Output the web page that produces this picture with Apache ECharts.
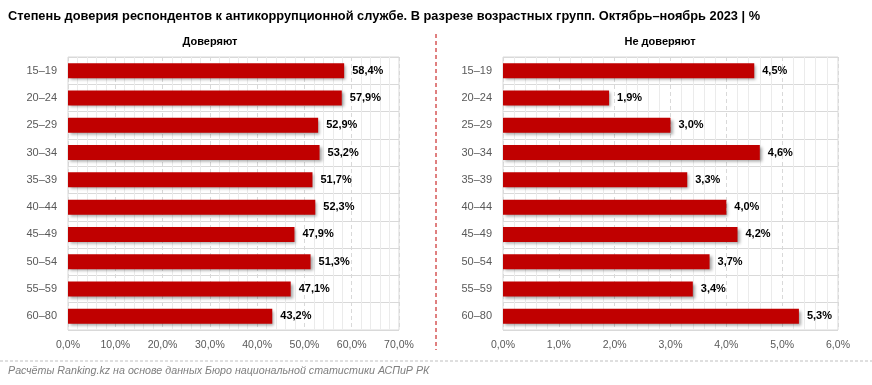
<!DOCTYPE html>
<html><head><meta charset="utf-8">
<script src="https://cdn.jsdelivr.net/npm/echarts@6/dist/echarts.min.js"></script>
<style>html,body{margin:0;padding:0;background:#fff}#c{width:872px;height:385px}</style>
</head><body><div id="c"></div>
<script>
const categories = ['15–19','20–24','25–29','30–34','35–39','40–44','45–49','50–54','55–59','60–80'];
const trustValues = [58.4, 57.9, 52.9, 53.2, 51.7, 52.3, 47.9, 51.3, 47.1, 43.2];
const distrustValues = [4.5, 1.9, 3.0, 4.6, 3.3, 4.0, 4.2, 3.7, 3.4, 5.3];
const titleText = 'Степень доверия респондентов к антикоррупционной службе. В разрезе возрастных групп. Октябрь–ноябрь 2023 | %';
const leftTitle = 'Доверяют';
const rightTitle = 'Не доверяют';
const sourceText = 'Расчёты Ranking.kz на основе данных Бюро национальной статистики АСПиР РК';

const FONT = '"Liberation Sans Narrow", "Liberation Sans", sans-serif';
const fmt = v => v.toFixed(1).replace('.', ',') + '%';
const chart = echarts.init(document.getElementById('c'));

function xAxis(idx, max, interval) {
  return {
    gridIndex: idx, type: 'value', min: 0, max: max, interval: interval,
    axisLine: {show: false}, axisTick: {show: false},
    axisLabel: {formatter: v => fmt(v), color: '#595959', fontFamily: FONT, fontSize: 10.5, margin: 10},
    splitLine: {show: true, lineStyle: {color: '#d9d9d9', type: [4, 3], width: 1}},
    minorTick: {show: false, splitNumber: 5},
    minorSplitLine: {show: true, lineStyle: {color: '#ebebeb', width: 1}}
  };
}
function yAxis(idx) {
  return {
    gridIndex: idx, type: 'category', data: categories, inverse: true,
    axisLine: {show: false}, axisTick: {show: false},
    axisLabel: {color: '#595959', fontFamily: FONT, fontSize: 11, margin: 11},
    splitLine: {show: true, interval: 0, lineStyle: {color: '#d9d9d9', width: 1}}
  };
}
function series(idx, data) {
  return {
    type: 'bar', xAxisIndex: idx, yAxisIndex: idx, data: data, barWidth: 15,
    itemStyle: {color: '#c00000', shadowBlur: 3, shadowOffsetX: 2, shadowOffsetY: 2, shadowColor: 'rgba(0,0,0,0.35)'},
    label: {show: true, position: 'right', distance: 8, formatter: p => fmt(p.value),
      color: '#000', fontFamily: FONT, fontSize: 11, fontWeight: 'bold'}
  };
}

chart.setOption({
  animation: false,
  backgroundColor: '#fff',
  grid: [
    {left: 68, width: 331, top: 57, height: 273, show: true, borderColor: '#d9d9d9', borderWidth: 1},
    {left: 503, width: 335, top: 57, height: 273, show: true, borderColor: '#d9d9d9', borderWidth: 1}
  ],
  xAxis: [xAxis(0, 70, 10), xAxis(1, 6, 1)],
  yAxis: [yAxis(0), yAxis(1)],
  series: [series(0, trustValues), series(1, distrustValues)],
  graphic: [
    {type: 'text', left: 8, top: 10, style: {text: titleText, font: 'bold 12.8px ' + FONT, fill: '#000'}},
    {type: 'text', x: 210, y: 42, style: {text: leftTitle, font: 'bold 11px ' + FONT, fill: '#000', align: 'center', verticalAlign: 'middle'}},
    {type: 'text', x: 660, y: 42, style: {text: rightTitle, font: 'bold 11px ' + FONT, fill: '#000', align: 'center', verticalAlign: 'middle'}},
    {type: 'line', shape: {x1: 436, y1: 34, x2: 436, y2: 350}, style: {stroke: '#c00000', lineWidth: 1, lineDash: [4, 3]}},
    {type: 'line', shape: {x1: 0, y1: 361, x2: 872, y2: 361}, style: {stroke: '#bfbfbf', lineWidth: 1, lineDash: [3, 2]}},
    {type: 'text', left: 8, top: 366, style: {text: sourceText, font: 'italic 10.7px ' + FONT, fill: '#7f7f7f'}}
  ]
});
</script></body></html>
